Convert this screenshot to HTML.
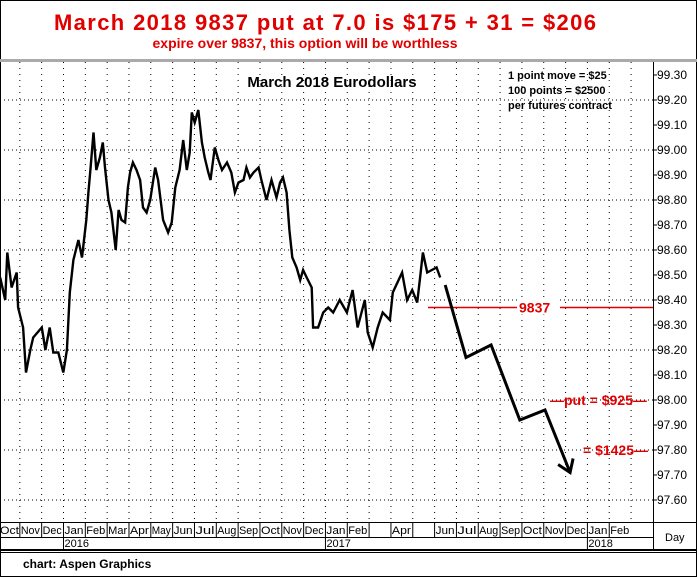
<!DOCTYPE html>
<html><head><meta charset="utf-8"><style>
html,body{margin:0;padding:0;background:#fff}
svg{display:block;font-family:"Liberation Sans",Arial,sans-serif}
</style></head><body>
<svg id="c" width="697" height="577" viewBox="0 0 697 577">
<rect x="0.5" y="0.5" width="696" height="576" fill="#fff" stroke="#000"/>
<text x="325" y="30" text-anchor="middle" font-size="22" font-weight="bold" fill="#e00000" textLength="542">March 2018 9837 put at 7.0 is $175 + 31 = $206</text>
<text x="305" y="48" text-anchor="middle" font-size="14" font-weight="bold" fill="#e00000">expire over 9837, this option will be worthless</text>
<rect x="0" y="59" width="697" height="3" fill="#aaa"/>
<g id="grid"></g>
<g id="axes"></g>
<text x="332" y="87" text-anchor="middle" font-size="15" font-weight="bold">March 2018 Eurodollars</text>
<g font-size="11" font-weight="bold">
<text x="508" y="79">1 point move = $25</text>
<text x="508" y="94">100 points = $2500</text>
<text x="508" y="109">per futures contract</text>
</g>
<g id="series"></g>
<g id="annot"></g>
<rect x="0" y="549" width="697" height="2" fill="#000"/>
<rect x="0" y="552" width="697" height="1" fill="#000"/>
<text x="23" y="568" font-size="12" font-weight="bold">chart: Aspen Graphics</text>
</svg>
<script>
// data
const yTicks=[99.30,99.20,99.10,99.00,98.90,98.80,98.70,98.60,98.50,98.40,98.30,98.20,98.10,98.00,97.90,97.80,97.70,97.60];
const gridLevels=[99.2,99.0,98.8,98.6,98.4,98.2,98.0,97.8,97.6];
const monthLabels=["Oct","Nov","Dec","Jan","Feb","Mar","Apr","May","Jun","Jul","Aug","Sep","Oct","Nov","Dec","Jan","Feb","","Apr","","Jun","Jul","Aug","Sep","Oct","Nov","Dec","Jan","Feb"];
const yearLabels=["2016","2017","2018"];
const yearStartMonth=[3,15,27];
const days=[3,10,13,19,26,28,35,39,45,49,61,66,72,77,84,91,96,100,105,112,117,123,126,129,133,137,142,146,149,154,158,164,168,172,177,181,184,188,193,198,202,207,212,219,223,230,237,242,247,253,258,263,267,270,274,279,284,288,293,296,302,307,312,319,325,330,335,342,346,351,356,363,367,374,381,388,393,397,402,406,410,416,421,425,430,437,439,446,453,460,467,476,486,494,501,511,515,522,529,536,546,550,563,570,577,584,588,592,598,611,616];
const prices=[98.49,98.40,98.59,98.45,98.51,98.37,98.29,98.11,98.20,98.25,98.29,98.20,98.29,98.19,98.19,98.11,98.20,98.43,98.56,98.64,98.57,98.72,98.83,98.93,99.07,98.92,98.97,99.03,98.93,98.80,98.75,98.60,98.76,98.72,98.71,98.85,98.91,98.95,98.92,98.88,98.77,98.75,98.80,98.93,98.88,98.72,98.67,98.71,98.85,98.92,99.04,98.92,98.99,99.15,99.11,99.16,99.03,98.97,98.91,98.88,99.01,98.96,98.92,98.95,98.91,98.83,98.87,98.88,98.93,98.89,98.91,98.93,98.88,98.80,98.88,98.81,98.87,98.89,98.83,98.68,98.57,98.53,98.48,98.52,98.49,98.45,98.29,98.29,98.35,98.37,98.35,98.40,98.35,98.44,98.29,98.40,98.27,98.21,98.29,98.35,98.32,98.43,98.51,98.40,98.44,98.39,98.49,98.59,98.51,98.53,98.49];
const fcDays=[623,652,687,727,762,797];
const fcPrices=[98.46,98.17,98.22,97.92,97.96,97.71];
const strike=98.37, putLevel=98.00, put2Level=97.80;

const NS="http://www.w3.org/2000/svg";
const PL=0,PR=653,PT=62,PB=522;
const X=d=>-2+d*0.7178;
const Y=v=>400-(v-98)*250;
const MX=i=>-2+i*21.83;
function mk(t,a,p){const e=document.createElementNS(NS,t);for(const k in a)e.setAttribute(k,a[k]);p.appendChild(e);return e;}
const grid=document.getElementById('grid'),axes=document.getElementById('axes'),ser=document.getElementById('series'),ann=document.getElementById('annot');
gridLevels.forEach(v=>{const l=mk('line',{x1:PL,x2:PR,y1:Y(v),y2:Y(v),stroke:'#000','stroke-dasharray':'1 3','stroke-width':1},grid);

});
for(let i=1;i<=monthLabels.length;i++){const x=MX(i);if(x>=PR)break;const l=mk('line',{x1:x,x2:x,y1:PT,y2:PB,stroke:'#000','stroke-dasharray':'1 5','stroke-width':1},grid);

}
mk('line',{x1:PR+0.5,x2:PR+0.5,y1:PT,y2:549,stroke:'#000'},axes);
mk('line',{x1:0,x2:697,y1:PB+0.5,y2:PB+0.5,stroke:'#000'},axes);
mk('line',{x1:0,x2:PR,y1:537.5,y2:537.5,stroke:'#000'},axes);
yTicks.forEach(v=>{mk('line',{x1:PR,x2:PR+4,y1:Y(v),y2:Y(v),stroke:'#000'},axes);
const t=mk('text',{x:657,y:Y(v)+4,'font-size':12},axes);t.textContent=v.toFixed(2);

});
monthLabels.forEach((m,i)=>{const x0=MX(i);if(i>0&&m!==""||i===17||i===19){mk('line',{x1:x0,x2:x0,y1:PB,y2:537,stroke:'#000'},axes);}
if(m){const t=mk('text',{x:Math.max(x0+1,0),y:534,'font-size':11,textLength:Math.min(19,String(m).length*6.5),lengthAdjust:'spacingAndGlyphs'},axes);t.textContent=m;

}});
yearLabels.forEach((y,i)=>{const x=MX(yearStartMonth[i]);mk('line',{x1:x,x2:x,y1:537,y2:549,stroke:'#000'},axes);
const t=mk('text',{x:x+1,y:547,'font-size':11},axes);t.textContent=y;

});
const dl=mk('text',{x:665,y:541,'font-size':11},axes);dl.textContent='Day';


const pts=days.map((d,i)=>X(d).toFixed(1)+','+Y(prices[i]).toFixed(1)).join(' ');
const pl=mk('polyline',{points:pts,fill:'none',stroke:'#000','stroke-width':2.4,'stroke-linejoin':'miter'},ser);


const sl=mk('line',{x1:428,x2:PR,y1:Y(strike),y2:Y(strike),stroke:'#e00000','stroke-width':1.5},ann);


mk('rect',{x:517,y:Y(strike)-8,width:43,height:15,fill:'#fff'},ann);
const st=mk('text',{x:519,y:Y(strike)+5,'font-size':14,'font-weight':'bold',fill:'#e00000'},ann);st.textContent='9837';


const p1=mk('text',{x:550,y:Y(putLevel)+5,'font-size':14,'font-weight':'bold',fill:'#e00000'},ann);p1.textContent='—put = $925—';


const p2=mk('text',{x:583,y:Y(put2Level)+5,'font-size':14,'font-weight':'bold',fill:'#e00000'},ann);p2.textContent='= $1425—';


const fp=fcDays.map((d,i)=>X(d).toFixed(1)+','+Y(fcPrices[i]).toFixed(1)).join(' ');
const fl=mk('polyline',{points:fp,fill:'none',stroke:'#000','stroke-width':3},ann);


const ex=X(fcDays[5]),ey=Y(fcPrices[5]);
const ah=mk('polyline',{points:`${ex-12},${ey-8} ${ex},${ey} ${ex+3},${ey-14}`,fill:'none',stroke:'#000','stroke-width':3},ann);


</script>
</body></html>
